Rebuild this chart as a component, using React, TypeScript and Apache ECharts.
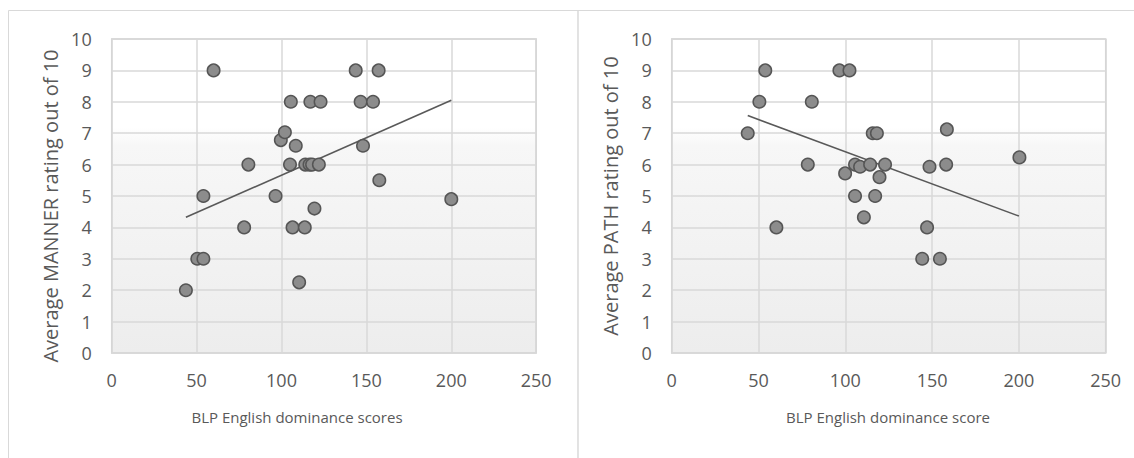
import React, { useEffect, useRef } from "react";
import * as echarts from "echarts";

// Left chart: BLP English dominance scores vs Average MANNER rating
const mannerX = [43.7, 50.4, 54, 54, 60, 78, 80.5, 96.5, 99.6, 102, 105.5, 105, 106.5, 108.4, 110.4, 113.7, 114, 116.5, 118, 117, 119.4, 122, 123, 143.7, 146.6, 148, 153.9, 157.2, 157.6, 200];
const mannerY = [2.0, 3.0, 3.0, 5.0, 9.0, 4.0, 6.0, 5.0, 6.78, 7.03, 8.0, 6.0, 4.0, 6.6, 2.25, 4.0, 6.0, 6.0, 6.0, 8.0, 4.6, 6.0, 8.0, 9.0, 8.0, 6.6, 8.0, 9.0, 5.5, 4.9];
const mannerTrendX = [43.7, 200];
const mannerTrendY = [4.32, 8.05];

// Right chart: BLP English dominance score vs Average PATH rating
const pathX = [43.8, 50.5, 53.9, 60.3, 78.4, 80.7, 96.6, 99.9, 102.4, 105.6, 105.6, 108.5, 110.7, 114.3, 115.8, 117.2, 118.2, 119.7, 122.9, 144.3, 147.1, 148.5, 154.5, 158.1, 158.5, 200.3];
const pathY = [7.0, 8.0, 9.0, 4.0, 6.0, 8.0, 9.0, 5.72, 9.0, 6.0, 5.0, 5.93, 4.32, 6.0, 7.0, 5.0, 7.0, 5.6, 6.0, 3.0, 4.0, 5.93, 3.0, 6.0, 7.12, 6.23];
const pathTrendX = [43.8, 200];
const pathTrendY = [7.56, 4.36];

const xTicks = { min: 0, max: 250, interval: 50 };
const yTicks = { min: 0, max: 10, interval: 1 };

const leftYTitle = "Average MANNER rating out of 10";
const leftXTitle = "BLP English dominance scores";
const rightYTitle = "Average PATH rating out of 10";
const rightXTitle = "BLP English dominance score";

const zip = (xs: number[], ys: number[]) => xs.map((x, i) => [x, ys[i]]);

export default function App() {
  const ref = useRef<HTMLDivElement>(null);
  useEffect(() => {
    if (!ref.current) return;
    const chart = echarts.init(ref.current, undefined, { renderer: "svg" });
    const font = "'Open Sans', 'Noto Sans', sans-serif";
    const textColor = "#595959";
    const gridLine = "#d9d9d9";
    const bg = new echarts.graphic.LinearGradient(0, 0, 0, 1, [
      { offset: 0, color: "#ffffff" },
      { offset: 0.28, color: "#ffffff" },
      { offset: 0.34, color: "#f7f7f7" },
      { offset: 1, color: "#ededed" },
    ]);
    const gridCommon = {
      top: 39,
      height: 314,
      show: true,
      backgroundColor: bg,
      borderColor: "#cfcfcf",
      borderWidth: 1.5,
      containLabel: false,
    };
    const xAxisCommon = (gridIndex: number) => ({
      type: "value",
      gridIndex,
      ...xTicks,
      axisLine: { show: false },
      axisTick: { show: false },
      splitLine: { show: true, lineStyle: { color: gridLine, width: 1.5 } },
      axisLabel: { color: textColor, fontSize: 18, fontFamily: font, margin: 18 },
    });
    const yAxisCommon = (gridIndex: number) => ({
      type: "value",
      gridIndex,
      ...yTicks,
      axisLine: { show: false },
      axisTick: { show: false },
      splitLine: { show: true, lineStyle: { color: gridLine, width: 1.5 } },
      axisLabel: { color: textColor, fontSize: 18, fontFamily: font, margin: 20 },
    });
    const scatterStyle = {
      type: "scatter",
      symbol: "circle",
      symbolSize: 12.5,
      itemStyle: { color: "#8c8c8c", borderColor: "#555555", borderWidth: 1.5, opacity: 1 },
      z: 3,
    };
    const trendStyle = {
      type: "line",
      showSymbol: false,
      symbol: "none",
      lineStyle: { color: "#595959", width: 1.6 },
      z: 2,
    };
    const titleStyle = (size: number) => ({
      fill: textColor,
      fontSize: size,
      fontFamily: font,
      align: "center",
      verticalAlign: "middle",
    });
    chart.setOption({
      animation: false,
      backgroundColor: "#ffffff",
      grid: [
        { ...gridCommon, left: 111.7, width: 424.5 },
        { ...gridCommon, left: 671.7, width: 434 },
      ],
      xAxis: [xAxisCommon(0), xAxisCommon(1)],
      yAxis: [yAxisCommon(0), yAxisCommon(1)],
      series: [
        { ...trendStyle, xAxisIndex: 0, yAxisIndex: 0, data: zip(mannerTrendX, mannerTrendY) },
        { ...scatterStyle, xAxisIndex: 0, yAxisIndex: 0, data: zip(mannerX, mannerY) },
        { ...trendStyle, xAxisIndex: 1, yAxisIndex: 1, data: zip(pathTrendX, pathTrendY) },
        { ...scatterStyle, xAxisIndex: 1, yAxisIndex: 1, data: zip(pathX, pathY) },
      ],
      graphic: [
        {
          type: "rect",
          shape: { x: 8.5, y: 10.5, width: 569.5, height: 460 },
          style: { fill: "none", stroke: "#d9d9d9", lineWidth: 1 },
          z: -10,
          silent: true,
        },
        {
          type: "rect",
          shape: { x: 578, y: 10.5, width: 570, height: 460 },
          style: { fill: "none", stroke: "#d9d9d9", lineWidth: 1 },
          z: -10,
          silent: true,
        },
        { type: "text", x: 50, y: 206, rotation: Math.PI / 2, style: { text: leftYTitle, ...titleStyle(20) } },
        { type: "text", x: 297, y: 417, style: { text: leftXTitle, ...titleStyle(15) } },
        { type: "text", x: 610, y: 196, rotation: Math.PI / 2, style: { text: rightYTitle, ...titleStyle(20) } },
        { type: "text", x: 888, y: 417, style: { text: rightXTitle, ...titleStyle(15) } },
      ],
    });
    return () => chart.dispose();
  }, []);
  return (
    <div
      ref={ref}
      style={{ position: "absolute", left: 0, top: 0, width: 1134, height: 458 }}
    />
  );
}
